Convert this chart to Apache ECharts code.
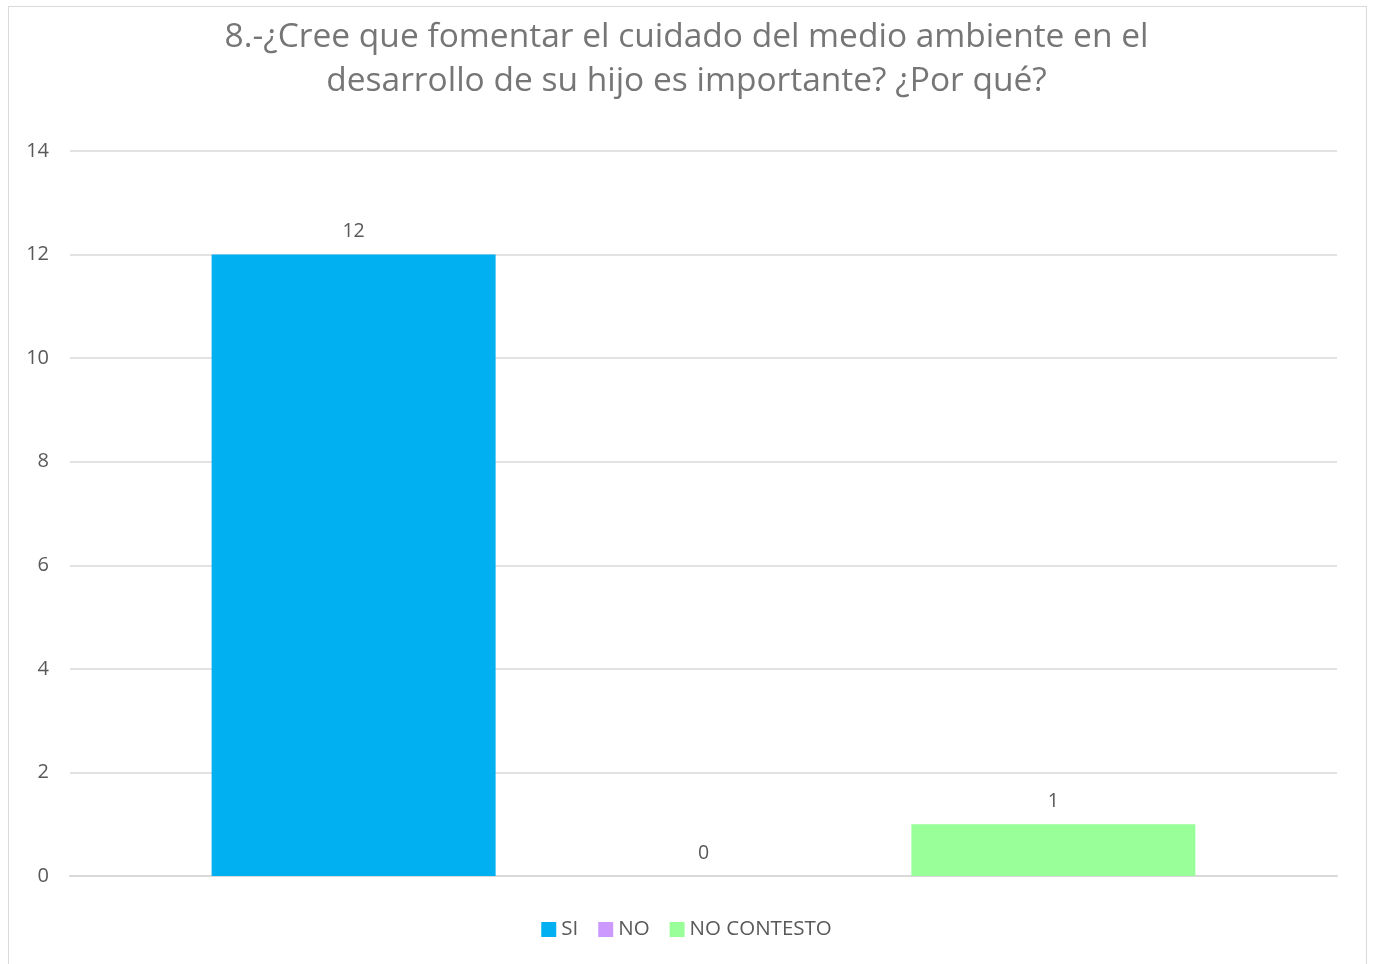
<!DOCTYPE html>
<html>
<head>
  <meta charset="utf-8">
  <title>8.-¿Cree que fomentar el cuidado del medio ambiente?</title>
  <script src="https://cdn.jsdelivr.net/npm/echarts@6/dist/echarts.min.js"></script>
  <style>
    body { margin: 0; padding: 0; background: #fff; }
    #frame {
      position: absolute; left: 8px; top: 6px;
      width: 1359px; height: 966px;
      border: 1px solid #d9d9d9; box-sizing: border-box;
    }
    #main { position: absolute; left: 0; top: 0; width: 1373px; height: 964px; }
  </style>
</head>
<body>
  <div id="frame"></div>
  <div id="main"></div>
  <script>
    var categories = [''];
    var seriesNames = ['SI', 'NO', 'NO CONTESTO'];
    var seriesValues = [[12], [0], [1]];
    var seriesColors = ['#00b0f0', '#cc99ff', '#99ff99'];

    var font = 'Open Sans, Noto Sans, sans-serif';

    var chart = echarts.init(document.getElementById('main'));
    var series = [];
    for (var i = 0; i < seriesNames.length; i++) {
      series.push({
        name: seriesNames[i],
        type: 'bar',
        data: seriesValues[i],
        barWidth: 284,
        barGap: '23.2%',
        itemStyle: { color: seriesColors[i] },
        label: {
          show: true,
          position: 'top',
          distance: 13,
          color: '#595959',
          fontSize: 19.5,
          fontFamily: font
        }
      });
    }

    chart.setOption({
      animation: false,
      title: {
        text: '8.-¿Cree que fomentar el cuidado del medio ambiente en el\ndesarrollo de su hijo es importante? ¿Por qué?',
        left: 'center',
        top: 10,
        textStyle: {
          color: '#767676',
          fontSize: 33.5,
          fontWeight: 'normal',
          fontFamily: font,
          lineHeight: 44
        }
      },
      legend: {
        bottom: 19,
        left: 'center',
        itemWidth: 15,
        itemHeight: 15,
        itemGap: 20,
        icon: 'rect',
        textStyle: { color: '#595959', fontSize: 20.5, fontFamily: font },
        data: seriesNames
      },
      grid: { left: 70, right: 36, top: 151, bottom: 88, containLabel: false },
      xAxis: {
        type: 'category',
        data: categories,
        axisLine: { lineStyle: { color: '#d9d9d9', width: 2 } },
        axisTick: { show: false },
        axisLabel: { show: false }
      },
      yAxis: {
        type: 'value',
        min: 0,
        max: 14,
        interval: 2,
        axisLine: { show: false },
        axisTick: { show: false },
        axisLabel: { color: '#595959', fontSize: 20, fontFamily: font, margin: 21 },
        splitLine: { lineStyle: { color: '#d9d9d9', width: 1.5 } }
      },
      series: series
    });
  </script>
</body>
</html>
